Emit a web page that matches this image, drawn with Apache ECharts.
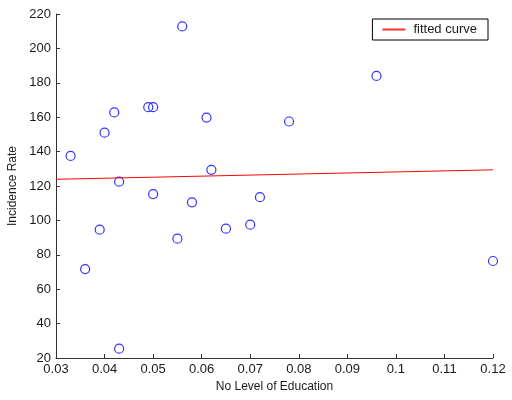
<!DOCTYPE html>
<html>
<head>
<meta charset="utf-8">
<script src="https://cdn.jsdelivr.net/npm/echarts@6/dist/echarts.min.js"></script>
<style>
  html, body { margin: 0; padding: 0; background: #fff; }
  #chart { width: 512px; height: 400px; }
</style>
</head>
<body>
<div id="chart"></div>
<script>
// scatter points: [no level of education, incidence rate]
var eduLevel = [0.033, 0.036, 0.039, 0.040, 0.042, 0.043, 0.043, 0.049, 0.050, 0.050, 0.055,
                0.056, 0.058, 0.061, 0.062, 0.065, 0.070, 0.072, 0.078, 0.096, 0.120];
var incidence = [137.5, 71.7, 94.6, 151, 162.8, 122.5, 25.4, 165.8, 165.8, 115.3, 89.4,
                 212.8, 110.5, 159.8, 129.4, 95.2, 97.5, 113.5, 157.5, 184, 76.4];
// fitted line end points
var fitX = [0.03, 0.12];
var fitY = [123.9, 129.4];

var points = eduLevel.map(function (x, i) { return [x, incidence[i]]; });
var fitLine = fitX.map(function (x, i) { return [x, fitY[i]]; });

var font = 'Liberation Sans, Arial, sans-serif';
var tickStyle = { color: '#1a1a1a', fontSize: 13, fontFamily: font };
var nameStyle = { color: '#1a1a1a', fontSize: 12, fontFamily: font };

var option = {
  animation: false,
  grid: { left: 56, right: 19, top: 14, bottom: 42, outerBoundsMode: 'none', containLabel: false },
  legend: {
    right: 24,
    top: 19,
    data: [{ name: 'fitted curve', icon: 'rect', itemStyle: { color: '#ff3030', opacity: 1, borderWidth: 0 } }],
    itemWidth: 23,
    itemHeight: 2,
    padding: [4, 11, 4, 10],
    borderColor: '#000',
    borderWidth: 1,
    borderRadius: 0,
    backgroundColor: '#fff',
    textStyle: { color: '#1a1a1a', fontSize: 13, fontFamily: font, padding: [0, 0, 0, 3] }
  },
  xAxis: {
    type: 'value',
    min: 0.03,
    max: 0.12,
    interval: 0.01,
    name: 'No Level of Education',
    nameLocation: 'middle',
    nameGap: 21,
    nameTextStyle: nameStyle,
    axisLine: { lineStyle: { color: '#333', width: 1 } },
    axisTick: { inside: true, length: 4, lineStyle: { color: '#333' } },
    axisLabel: Object.assign({ margin: 5, formatter: function (v) { return String(parseFloat(v.toFixed(2))); } }, tickStyle),
    splitLine: { show: false }
  },
  yAxis: {
    type: 'value',
    min: 20,
    max: 220,
    interval: 20,
    name: 'Incidence Rate',
    nameLocation: 'middle',
    nameGap: 35,
    nameTextStyle: nameStyle,
    axisLine: { show: true, lineStyle: { color: '#333', width: 1 } },
    axisTick: { show: true, inside: true, length: 4, lineStyle: { color: '#333' } },
    axisLabel: Object.assign({ margin: 5 }, tickStyle),
    splitLine: { show: false }
  },
  series: [
    {
      name: 'data',
      type: 'scatter',
      data: points,
      symbol: 'circle',
      symbolSize: 9,
      itemStyle: { color: 'rgba(0,0,0,0)', borderColor: '#0000ff', borderWidth: 1.2 }
    },
    {
      name: 'fitted curve',
      type: 'line',
      data: fitLine,
      symbol: 'none',
      lineStyle: { color: '#ff0000', width: 1 },
      itemStyle: { color: '#ff0000' }
    }
  ]
};

var myChart = echarts.init(document.getElementById('chart'));
myChart.setOption(option);
</script>
</body>
</html>
